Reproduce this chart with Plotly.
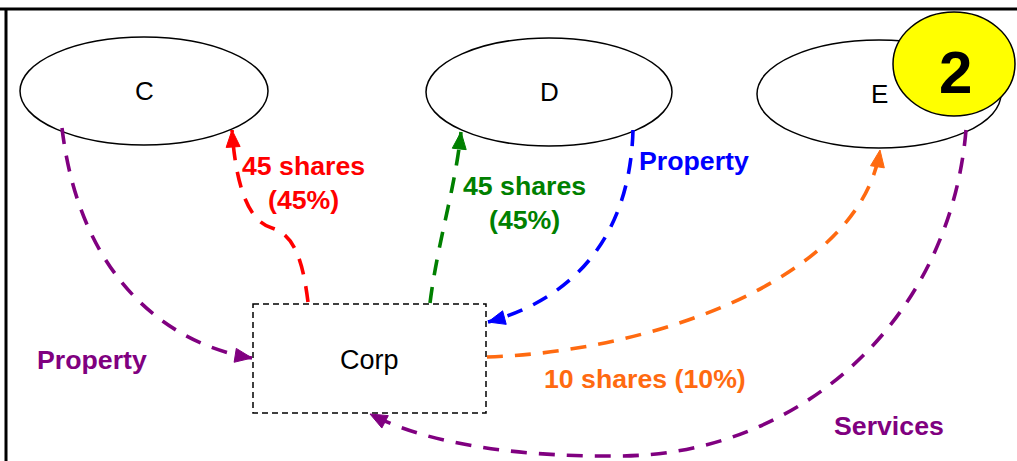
import math
import plotly.graph_objects as go

W, H = 1017, 461

# Nodes (ellipses)
node_names = ["C", "D", "E"]
node_cx = [144, 549, 879]
node_cy = [91, 92, 94]
node_rx = [124, 123, 122]
node_ry = [54, 54, 54]

# Corporation box
corp_label = "Corp"
corp_box = [253, 304, 486, 413]   # x0, y0, x1, y1

# Badge
badge_text = "2"
badge_center = [954, 64]
badge_r = [61, 52]

# Edges: start point followed by cubic bezier triples (ends at arrow tip)
edge_colors = ["#800080", "#FF0000", "#008000", "#0000FF", "#FF6A10", "#800080"]
edge_points = [
    [(62, 128), (80, 280), (170, 345), (252, 358)],
    [(308, 302), (303, 262), (295, 235), (272, 228), (250, 222), (236, 190), (232, 130)],
    [(430, 303), (438, 240), (455, 190), (461, 132)],
    [(633, 130), (630, 240), (570, 300), (488, 322)],
    [(487, 357), (650, 352), (860, 280), (880, 150)],
    [(966, 130), (950, 320), (800, 455), (620, 456), (500, 457), (420, 440), (370, 414)],
]

# Edge labels: (text lines, x, y list, colour)
label_texts = [["45 shares", "(45%)"], ["45 shares", "(45%)"], ["Property"],
               ["Property"], ["10 shares (10%)"], ["Services"]]
label_x = [303, 524, 694, 92, 645, 889]
label_y = [[166, 200], [186, 220], [161], [360], [379], [426]]
label_colors = ["#FF0000", "#008000", "#0000FF", "#800080", "#FF6A10", "#800080"]

FONT = "Liberation Sans, Arial, sans-serif"

fig = go.Figure()
shapes = []
annotations = []

# Frame lines
shapes.append(dict(type="line", x0=0, y0=9, x1=W, y1=9, xref="x", yref="y",
                   line=dict(color="black", width=3)))
shapes.append(dict(type="line", x0=6, y0=9, x1=6, y1=H, xref="x", yref="y",
                   line=dict(color="black", width=3)))

# Ellipses
for name, cx, cy, rx, ry in zip(node_names, node_cx, node_cy, node_rx, node_ry):
    shapes.append(dict(type="circle", xref="x", yref="y",
                       x0=cx - rx, x1=cx + rx, y0=cy - ry, y1=cy + ry,
                       line=dict(color="black", width=1.5), fillcolor="white", layer="above"))
    annotations.append(dict(x=cx, y=cy, xref="x", yref="y", text=name, showarrow=False,
                            font=dict(family=FONT, size=26, color="black"),
                            xanchor="center", yanchor="middle"))

# Corp box
shapes.append(dict(type="rect", xref="x", yref="y",
                   x0=corp_box[0], y0=corp_box[1], x1=corp_box[2], y1=corp_box[3],
                   line=dict(color="black", width=1.5, dash="6px,4px"), fillcolor="white",
                   layer="below"))
annotations.append(dict(x=(corp_box[0] + corp_box[2]) / 2, y=(corp_box[1] + corp_box[3]) / 2 + 1,
                        xref="x", yref="y", text=corp_label, showarrow=False,
                        font=dict(family=FONT, size=27, color="black"),
                        xanchor="center", yanchor="middle"))

# Edges with arrowheads
AL, AW = 17, 14
for color, pts in zip(edge_colors, edge_points):
    d = "M %g %g" % pts[0]
    for i in range(1, len(pts), 3):
        (a, b), (c, e), (f, g) = pts[i], pts[i + 1], pts[i + 2]
        d += " C %g %g, %g %g, %g %g" % (a, b, c, e, f, g)
    shapes.append(dict(type="path", path=d, xref="x", yref="y",
                       line=dict(color=color, width=3.6, dash="16px,12px"), layer="above"))
    tx, ty = pts[-1]
    px, py = pts[-2]
    dx, dy = tx - px, ty - py
    n = math.hypot(dx, dy)
    dx, dy = dx / n, dy / n
    bx, by = tx - AL * dx, ty - AL * dy
    qx, qy = -dy, dx
    tri = "M %g %g L %g %g L %g %g Z" % (tx, ty, bx + AW / 2 * qx, by + AW / 2 * qy,
                                        bx - AW / 2 * qx, by - AW / 2 * qy)
    shapes.append(dict(type="path", path=tri, xref="x", yref="y",
                       fillcolor=color, line=dict(color=color, width=1), layer="above"))

# Badge
shapes.append(dict(type="circle", xref="x", yref="y",
                   x0=badge_center[0] - badge_r[0], x1=badge_center[0] + badge_r[0],
                   y0=badge_center[1] - badge_r[1], y1=badge_center[1] + badge_r[1],
                   line=dict(color="black", width=1.5), fillcolor="#FFFF00", layer="above"))
annotations.append(dict(x=badge_center[0] + 1, y=badge_center[1] + 8, xref="x", yref="y",
                        text="<b>%s</b>" % badge_text, showarrow=False,
                        font=dict(family=FONT, size=60, color="black"),
                        xanchor="center", yanchor="middle"))

# Edge labels
for lines, x, ys, col in zip(label_texts, label_x, label_y, label_colors):
    for t, y in zip(lines, ys):
        annotations.append(dict(x=x, y=y, xref="x", yref="y", text="<b>%s</b>" % t,
                                showarrow=False, font=dict(family=FONT, size=26.7, color=col),
                                xanchor="center", yanchor="middle"))

fig.update_layout(
    width=W, height=H, margin=dict(l=0, r=0, t=0, b=0),
    paper_bgcolor="white", plot_bgcolor="white",
    xaxis=dict(range=[0, W], visible=False, fixedrange=True),
    yaxis=dict(range=[H, 0], visible=False, fixedrange=True),
    shapes=shapes, annotations=annotations, showlegend=False,
)

fig.write_html("out.html", config={"displayModeBar": False},
               post_script="document.body.style.margin='0';document.body.style.overflow='hidden';")
